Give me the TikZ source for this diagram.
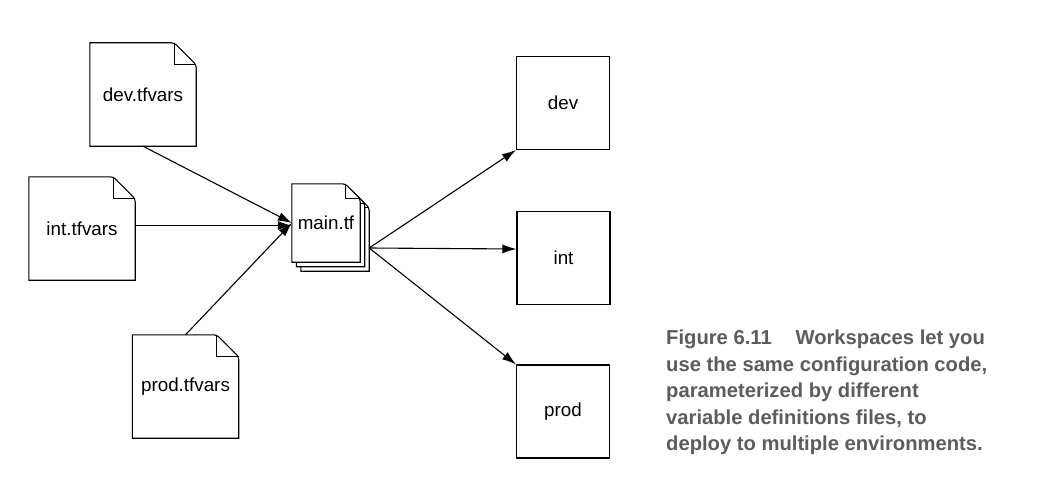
\documentclass[tikz,border=0pt]{standalone}
\usepackage{fontspec}
\setmainfont{Liberation Sans}
\usetikzlibrary{arrows.meta,backgrounds}
\definecolor{captiongray}{RGB}{92,92,92}
\tikzstyle{tfvars}=[minimum width=106pt, minimum height=103pt, inner sep=0pt]
\tikzstyle{mainpage}=[minimum width=68pt, minimum height=78pt, inner sep=0pt]
\tikzstyle{envbox}=[draw, line width=1.1pt, minimum width=93pt, minimum height=93pt, inner sep=0pt]
\tikzstyle{flow}=[-{Latex[length=14pt,width=9pt]}, line width=1.1pt]
\tikzstyle{caption}=[align=left, inner sep=0pt, text=captiongray, font=\bfseries\fontsize{20.2}{26.5}\selectfont]
% outline of a file with a folded corner
\newcommand{\docoutline}[2]{%
  \draw[fill=white, line width=1.1pt] (#1.north west) [rounded corners=3pt] -- ([xshift=-#2]#1.north east)
    -- ([yshift=-#2]#1.north east) [sharp corners] -- (#1.south east) -- (#1.south west) -- cycle;
  \draw[line width=1.1pt] ([xshift=-#2]#1.north east) |- ([yshift=-#2]#1.north east);
}

\begin{document}
\begin{tikzpicture}[x=1pt, y=-1pt, font=\fontsize{18.8}{22}\selectfont]
  \useasboundingbox (0,0) rectangle (1054,500);
  % variable definition files
  \node[tfvars] (devvars) at (143,94.5) {dev.tfvars};
  \node[tfvars] (intvars) at (82,228.5) {int.tfvars};
  \node[tfvars] (prodvars) at (185.5,386.5) {prod.tfvars};

  % configuration stack
  \node[mainpage] (main3) at (335,232) {};
  \node[mainpage] (main2) at (330.5,227.5) {};
  \node[mainpage] (main) at (326,223) {main.tf};

  \begin{pgfonlayer}{background}
    \docoutline{devvars}{22}
    \docoutline{intvars}{22}
    \docoutline{prodvars}{22}
    \docoutline{main3}{15}
    \docoutline{main2}{15}
    \docoutline{main}{15}
  \end{pgfonlayer}

  % environments
  \node[envbox] (envdev) at (563,103) {dev};
  \node[envbox] (envint) at (563.5,258) {int};
  \node[envbox] (envprod) at (563,411.5) {prod};

  \draw[flow] (devvars.south) -- (main.west);
  \draw[flow] ([yshift=3pt]intvars.east) -- ([yshift=3pt]intvars.east -| main.west);
  \draw[flow] (prodvars.north) -- (main.west);

  \coordinate (mainout) at ([shift={(9pt,-25pt)}]main.east);
  \draw[flow] (mainout) -- (envdev.south west);
  \draw[flow] (mainout) -- ([yshift=9pt]envint.west);
  \draw[flow] (mainout) -- (envprod.north west);

  %% Caption
  \node[caption, anchor=north west] (figcaption) at (666,330) {Figure 6.11\hspace{0.9em} Workspaces let you\\
    use the same configuration code,\\
    parameterized by different\\
    variable definitions files, to\\
    deploy to multiple environments.};
\end{tikzpicture}
\end{document}
